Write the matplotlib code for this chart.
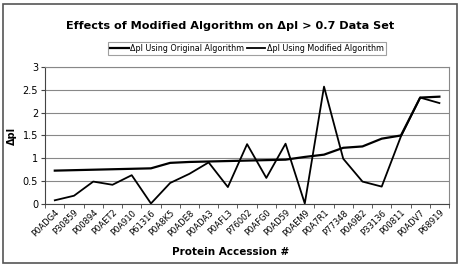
import numpy as np
import matplotlib.pyplot as plt
from matplotlib.patches import Rectangle

proteins = ["P0ADG4", "P30859", "P00894", "P0AET2", "P0A910", "P61316", "P0A8K5",
            "P0ADE8", "P0ADA3", "P0AFL3", "P76002", "P0AFG0", "P0AD59", "P0AEM9",
            "P0A7R1", "P77348", "P0A9B2", "P33136", "P00811", "P0ADV7", "P68919"]
original = [0.73, 0.74, 0.75, 0.76, 0.77, 0.78, 0.90, 0.92, 0.93, 0.94, 0.95,
            0.96, 0.97, 1.03, 1.08, 1.23, 1.26, 1.43, 1.50, 2.33, 2.35]
modified = [0.08, 0.18, 0.49, 0.42, 0.63, 0.01, 0.46, 0.66, 0.91, 0.37, 1.31,
            0.57, 1.32, 0.01, 2.57, 0.99, 0.49, 0.38, 1.48, 2.33, 2.21]

plt.rcParams['font.family'] = ['DejaVu Sans']
fig = plt.figure(figsize=(4.61, 2.68), dpi=100)
ax = fig.add_axes([0.098, 0.239, 0.876, 0.511])

x = np.arange(len(proteins))
l1, = ax.plot(x, original, color='black', lw=1.6)
l2, = ax.plot(x, modified, color='black', lw=1.3)

ax.set_xlim(-0.5, len(proteins) - 0.5)
ax.set_ylim(0, 3)
ax.set_yticks(np.arange(0, 3.01, 0.5))
ax.set_yticklabels(['0', '0.5', '1', '1.5', '2', '2.5', '3'], fontsize=7)
ax.yaxis.grid(True, color='#888888', lw=0.8)
ax.set_axisbelow(True)
ax.set_xticks(x)
ax.set_xticklabels(proteins, rotation=45, ha='right', rotation_mode='anchor', fontsize=6)
ax.tick_params(axis='x', length=0, pad=3)
ax.set_xticks(np.arange(-0.5, len(proteins)), minor=True)
ax.tick_params(axis='x', which='minor', length=3, direction='out', color='#444444')
ax.tick_params(axis='y', length=3, direction='out', pad=2, color='#444444')
for s in ax.spines.values():
    s.set_color('#888888')
    s.set_linewidth(0.8)
ax.spines['bottom'].set_color('#444444')
ax.spines['left'].set_color('#444444')

ax.set_ylabel('ΔpI', fontsize=7, fontweight='bold', labelpad=4)
fig.text(0.5, 0.06, 'Protein Accession #', ha='center', va='center',
         fontsize=7.5, fontweight='bold')
fig.text(0.5, 0.903, 'Effects of Modified Algorithm on ΔpI > 0.7 Data Set',
         ha='center', va='center', fontsize=8.1, fontweight='bold')

leg = fig.legend([l1, l2], ['ΔpI Using Original Algorithm', 'ΔpI Using Modified Algorithm'],
                 loc='center', bbox_to_anchor=(0.536, 0.819), ncol=2, fontsize=5.8,
                 frameon=True, fancybox=False, handlelength=2.3, handletextpad=0.2,
                 columnspacing=0.3, borderpad=0.3, borderaxespad=0)
leg.get_frame().set_edgecolor('#888888')
leg.get_frame().set_linewidth(0.8)

fig.patches.append(Rectangle((0.006, 0.02), 0.985, 0.965, transform=fig.transFigure,
                             fill=False, edgecolor='#555555', lw=1.2))

fig.savefig('out.png', dpi=100)
